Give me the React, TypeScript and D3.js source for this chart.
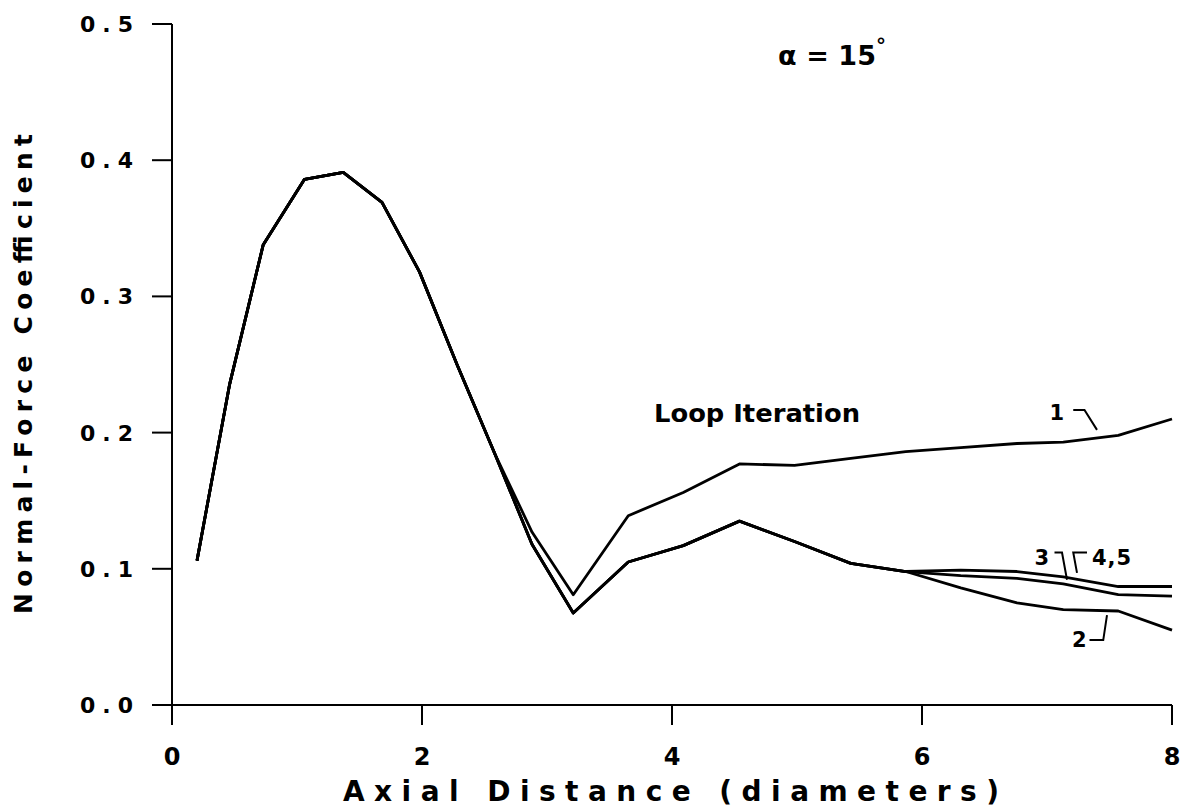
import React from "react";
import * as d3 from "d3";

// ---- data ----
const sharedX = [0.2, 0.46, 0.73, 1.06, 1.37, 1.68, 1.98, 2.28, 2.58];
const sharedY = [0.106, 0.235, 0.338, 0.386, 0.391, 0.369, 0.318, 0.25, 0.185];

const iter1X = [2.88, 3.21, 3.65, 4.09, 4.54, 4.98, 5.43, 5.87, 6.31, 6.76, 7.13, 7.57, 8.0];
const iter1Y = [0.127, 0.081, 0.139, 0.156, 0.177, 0.176, 0.181, 0.186, 0.189, 0.192, 0.193, 0.198, 0.21];

const laterX = [2.88, 3.21, 3.65, 4.09, 4.54, 4.98, 5.43, 5.87];
const laterY = [0.118, 0.0675, 0.105, 0.117, 0.135, 0.12, 0.104, 0.098];

const tailX = [6.31, 6.76, 7.13, 7.57, 8.0];
const iter2Y = [0.086, 0.075, 0.07, 0.069, 0.055];
const iter3Y = [0.095, 0.093, 0.089, 0.081, 0.08];
const iter45Y = [0.099, 0.098, 0.094, 0.087, 0.087];

const xTicks = [0, 2, 4, 6, 8];
const xTickLabels = ["0", "2", "4", "6", "8"];
const yTicks = [0, 0.1, 0.2, 0.3, 0.4, 0.5];
const yTickLabels = ["0.0", "0.1", "0.2", "0.3", "0.4", "0.5"];

// annotation labels (data coords) with hook polylines
const curveLabels = [
  { text: "1", x: 7.02, y: 0.209, hook: [[7.21, 0.2166], [7.3, 0.2166], [7.4, 0.202]] },
  { text: "3", x: 6.9, y: 0.103, hook: [[7.06, 0.112], [7.12, 0.112], [7.16, 0.092]] },
  { text: "4,5", x: 7.36, y: 0.103, hook: [[7.32, 0.112], [7.21, 0.112], [7.24, 0.097]] },
  { text: "2", x: 7.2, y: 0.0426, hook: [[7.34, 0.0477], [7.45, 0.0477], [7.48, 0.066]] },
];

const zip = (xs: number[], ys: number[]) => xs.map((x, i) => [x, ys[i]] as [number, number]);

const series = [
  zip([...sharedX, ...iter1X], [...sharedY, ...iter1Y]),
  zip([...sharedX, ...laterX, ...tailX], [...sharedY, ...laterY, ...iter2Y]),
  zip([...sharedX, ...laterX, ...tailX], [...sharedY, ...laterY, ...iter3Y]),
  zip([...sharedX, ...laterX, ...tailX], [...sharedY, ...laterY, ...iter45Y]),
];

export default function App() {
  const W = 1181, H = 808;
  const x = d3.scaleLinear().domain([0, 8]).range([172, 1172]);
  const y = d3.scaleLinear().domain([0, 0.5]).range([705, 24]);
  const line = d3.line<[number, number]>().x(d => x(d[0])).y(d => y(d[1]));
  const tick = 20;
  const wide = "'DejaVu Sans', sans-serif";

  return (
    <svg width={W} height={H} style={{ position: "absolute", left: 0, top: 0, background: "#fff" }}>
      <rect width={W} height={H} fill="#fff" />
      {/* axes */}
      <line x1={x(0)} x2={x(0)} y1={y(0.5)} y2={y(0) + tick} stroke="#000" strokeWidth={2} />
      <line x1={x(0) - tick} x2={x(8)} y1={y(0)} y2={y(0)} stroke="#000" strokeWidth={2} />
      {yTicks.map((t, i) => (
        <g key={"y" + i}>
          <line x1={x(0) - tick} x2={x(0)} y1={y(t)} y2={y(t)} stroke="#000" strokeWidth={2} />
          <text x={x(0) - 32} y={y(t) + 8} textAnchor="end" fontFamily={wide} fontWeight="bold" fontSize={22} letterSpacing={7}>
            {yTickLabels[i]}
          </text>
        </g>
      ))}
      {xTicks.map((t, i) => (
        <g key={"x" + i}>
          {t > 0 && <line x1={x(t)} x2={x(t)} y1={y(0)} y2={y(0) + tick} stroke="#000" strokeWidth={2} />}
          <text x={x(t)} y={765} textAnchor="middle" fontFamily={wide} fontWeight="bold" fontSize={24}>
            {xTickLabels[i]}
          </text>
        </g>
      ))}
      {/* axis titles */}
      <text x={343} y={801} fontFamily={wide} fontWeight="bold" fontSize={28} textLength={656} lengthAdjust="spacing">
        Axial Distance (diameters)
      </text>
      <text transform="translate(32,614) rotate(-90)" fontFamily={wide} fontWeight="bold" fontSize={25} textLength={480} lengthAdjust="spacing">
        Normal-Force Coefficient
      </text>
      {/* curves */}
      {series.map((s, i) => (
        <path key={"s" + i} d={line(s) || ""} fill="none" stroke="#000" strokeWidth={2.8} strokeLinejoin="round" />
      ))}
      {/* annotations */}
      <text x={654} y={422} fontFamily={wide} fontWeight="bold" fontSize={25} textLength={206} lengthAdjust="spacingAndGlyphs">
        Loop Iteration
      </text>
      <text x={778} y={65} fontFamily={wide} fontWeight="bold" fontSize={27} textLength={98} lengthAdjust="spacing">
        α = 15
      </text>
      <text x={876} y={52} fontFamily={wide} fontWeight="bold" fontSize={20}>°</text>
      {curveLabels.map((c, i) => (
        <g key={"c" + i}>
          <text x={x(c.x)} y={y(c.y)} fontFamily={wide} fontWeight="bold" fontSize={21} letterSpacing={1}>
            {c.text}
          </text>
          <path d={d3.line()(c.hook.map(p => [x(p[0]), y(p[1])] as [number, number])) || ""} fill="none" stroke="#000" strokeWidth={2} />
        </g>
      ))}
    </svg>
  );
}
